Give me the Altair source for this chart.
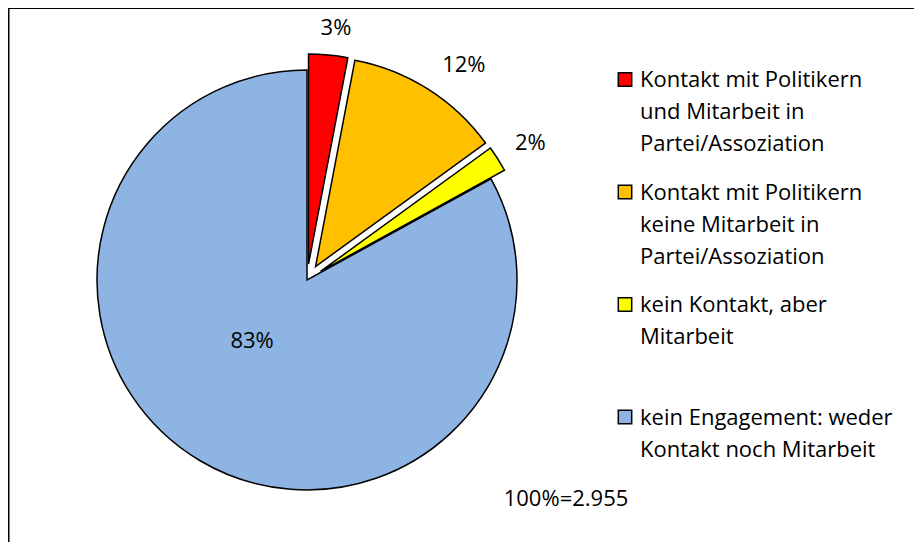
import altair as alt
import pandas as pd

# ---- data ----
categories = [
    "Kontakt mit Politikern und Mitarbeit in Partei/Assoziation",
    "Kontakt mit Politikern keine Mitarbeit in Partei/Assoziation",
    "kein Kontakt, aber Mitarbeit",
    "kein Engagement: weder Kontakt noch Mitarbeit",
]
legend_lines = [
    "Kontakt mit Politikern\nund Mitarbeit in\nPartei/Assoziation",
    "Kontakt mit Politikern\nkeine Mitarbeit in\nPartei/Assoziation",
    "kein Kontakt, aber\nMitarbeit",
    "kein Engagement: weder\nKontakt noch Mitarbeit",
]
values = [3, 12, 2, 83]
colors = ["#FF0000", "#FFC000", "#FFFF00", "#8DB4E2"]
total_note = "100%=2.955"

df = pd.DataFrame({
    "order": list(range(len(values))),
    "category": categories,
    "legend": legend_lines,
    "value": values,
})

# ---- layout ----
W, H = 906, 534
CX, CY, R = 299, 272, 210
FONT = "Open Sans"
FS = 22

base = alt.Chart(df).transform_window(
    cum="sum(value)", sort=[alt.SortField("order")]
).transform_calculate(
    t1="datum.cum / 100 * 2 * PI",
    t0="(datum.cum - datum.value) / 100 * 2 * PI",
    mid="(datum.t0 + datum.t1) / 2",
    ex="datum.value < 50 ? 16 : 0",
    px=f"{CX} + datum.ex * sin(datum.mid)",
    py=f"{CY} - datum.ex * cos(datum.mid)",
    lr="datum.value < 50 ? (datum.value >= 10 ? 266 : (datum.value > 2 ? 254 : 262)) : 82",
    la="datum.value < 50 ? datum.mid + datum.value * 0.005 + 0.005 : datum.mid + 0.2",
    lx=f"{CX} + datum.lr * sin(datum.la)",
    ly=f"{CY} - datum.lr * cos(datum.la)",
    lab="datum.value + '%'",
    legy="71.5 + 112.5 * datum.order",
    legty="79 + 112.5 * datum.order",
)

pie = base.mark_arc(radius=R, stroke="black", strokeWidth=1.5).encode(
    x=alt.X("px:Q", scale=None, axis=None),
    y=alt.Y("py:Q", scale=None, axis=None),
    theta=alt.Theta("t0:Q", scale=None, stack=None),
    theta2="t1:Q",
    color=alt.Color("category:N",
                    scale=alt.Scale(domain=categories, range=colors),
                    legend=None),
)

labels = base.mark_text(font=FONT, fontSize=FS, color="black",
                        align="center", baseline="middle").encode(
    x=alt.X("lx:Q", scale=None, axis=None),
    y=alt.Y("ly:Q", scale=None, axis=None),
    text="lab:N",
)

leg_sq = base.mark_square(size=180, filled=True, stroke="black",
                          strokeWidth=1.5, opacity=1).encode(
    x=alt.value(617),
    y=alt.Y("legy:Q", scale=None, axis=None),
    color=alt.Color("category:N",
                    scale=alt.Scale(domain=categories, range=colors),
                    legend=None),
)

leg_txt = base.mark_text(font=FONT, fontSize=FS, color="black",
                         align="left", baseline="alphabetic",
                         lineBreak="\n", lineHeight=32).encode(
    x=alt.value(632),
    y=alt.Y("legty:Q", scale=None, axis=None),
    text="legend:N",
)

note = alt.Chart(pd.DataFrame({"t": [total_note]})).mark_text(
    font=FONT, fontSize=FS, color="black", align="center", baseline="middle"
).encode(x=alt.value(558), y=alt.value(491), text="t:N")

one = pd.DataFrame({"a": [0]})
top_line = alt.Chart(one).mark_rule(color="black", strokeWidth=2).encode(
    x=alt.value(0), x2=alt.value(W), y=alt.value(0)
)
left_line = alt.Chart(one).mark_rule(color="black", strokeWidth=2).encode(
    x=alt.value(0.5), y=alt.value(0), y2=alt.value(H)
)

chart = alt.layer(pie, labels, leg_sq, leg_txt, note, top_line, left_line).properties(
    width=W, height=H, autosize=alt.AutoSizeParams(type="none"), padding=0,
    background="white",
).configure_view(stroke=None)

chart.save("out.html", embed_options={"renderer": "svg", "actions": False})
